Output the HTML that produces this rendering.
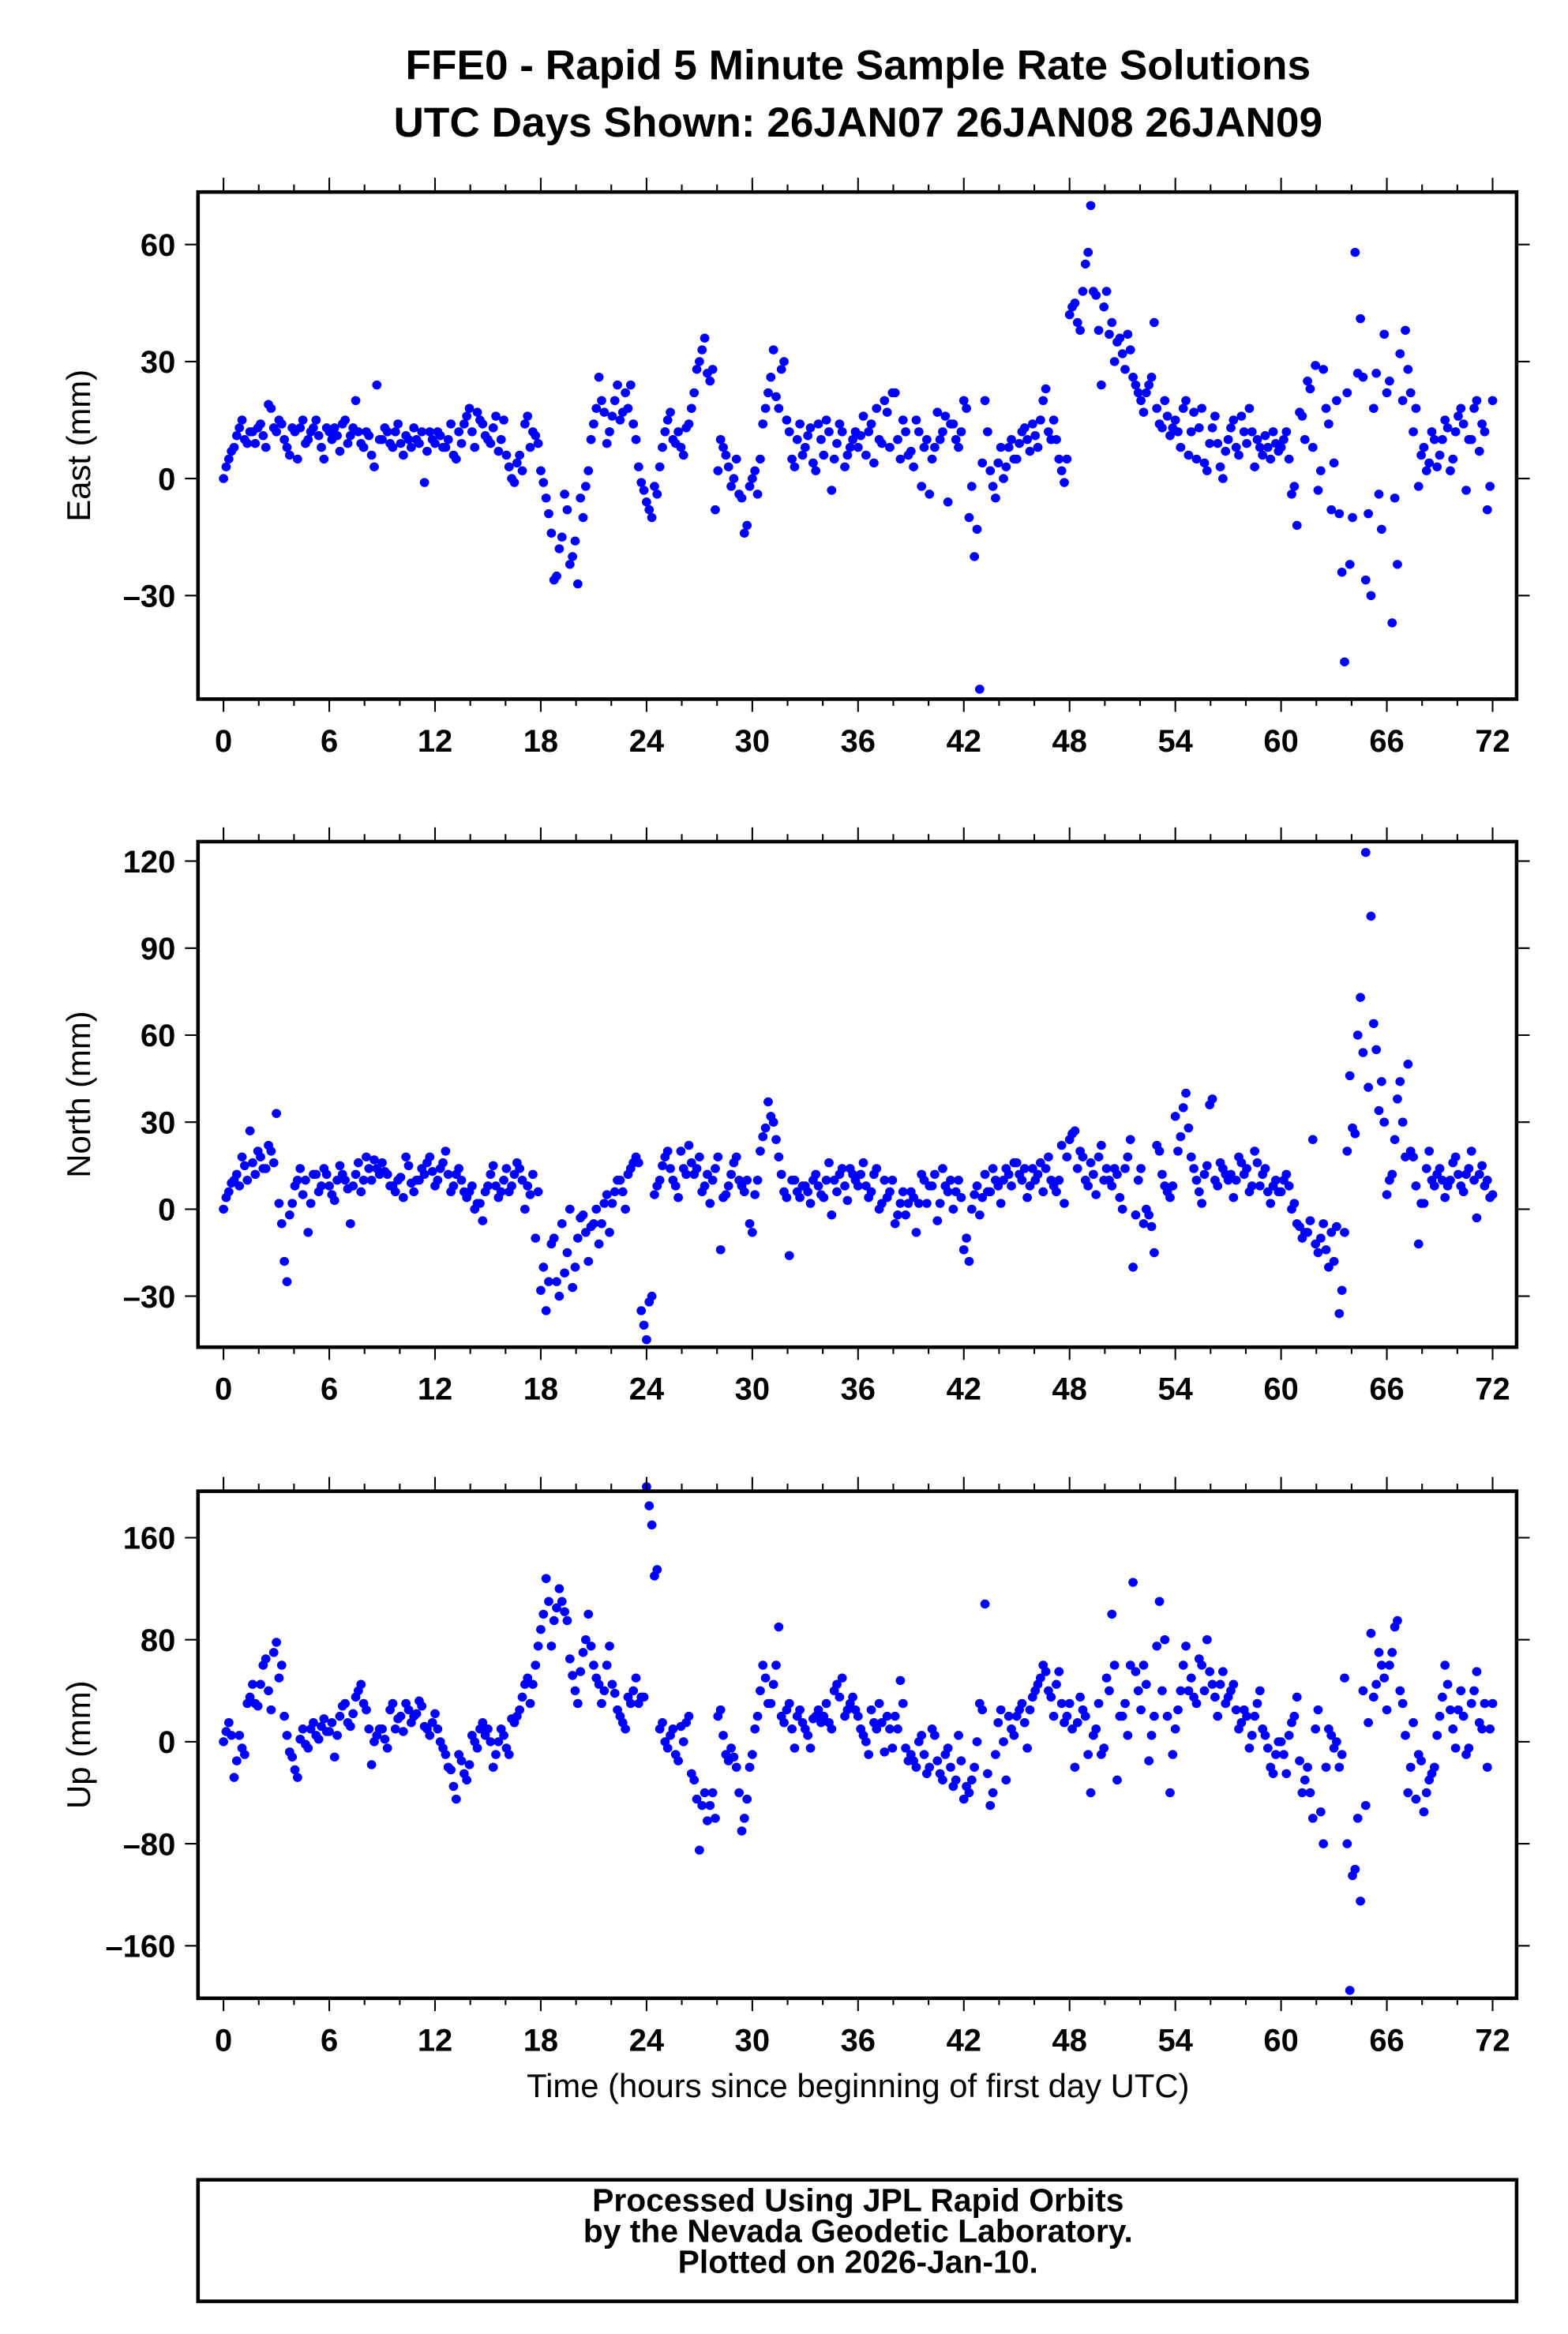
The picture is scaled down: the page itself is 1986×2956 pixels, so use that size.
<!DOCTYPE html>
<html><head><meta charset="utf-8"><title>FFE0 Rapid 5 Minute Solutions</title>
<style>
html,body{margin:0;padding:0;background:#fff;}
svg{display:block;}
text{font-family:"Liberation Sans",Arial,sans-serif;fill:#000;}
</style></head>
<body>
<svg id="chart" xmlns="http://www.w3.org/2000/svg" width="1986" height="2956" viewBox="0 0 1045.26 1555.79" preserveAspectRatio="none">
<rect x="0" y="0" width="1045.26" height="1555.79" fill="#fff"/>
<text x="572" y="53" text-anchor="middle" font-size="28" font-weight="bold">FFE0 - Rapid 5 Minute Sample Rate Solutions</text>
<text x="572" y="91" text-anchor="middle" font-size="28" font-weight="bold">UTC Days Shown:  26JAN07 26JAN08 26JAN09</text>
<g id="panels"></g>
<text x="572" y="1398" text-anchor="middle" font-size="22">Time (hours since beginning of first day UTC)</text>
<g>
<rect x="132" y="1453" width="879" height="81" fill="none" stroke="#000" stroke-width="2.4"/>
<text x="572" y="1474" text-anchor="middle" font-size="21.5" font-weight="bold">Processed Using JPL Rapid Orbits</text>
<text x="572" y="1494.5" text-anchor="middle" font-size="21.5" font-weight="bold">by the Nevada Geodetic Laboratory.</text>
<text x="572" y="1515" text-anchor="middle" font-size="21.5" font-weight="bold">Plotted on 2026-Jan-10.</text>
</g>
</svg>
<script>
// sample step in hours between plotted solutions; series B is offset by half a step
const sampleStep = 0.3;
const offsetB = 0.15;
const xTicks = [0,6,12,18,24,30,36,42,48,54,60,66,72];
const eastTicks = [-30,0,30,60];
const northTicks = [-30,0,30,60,90,120];
const upTicks = [-160,-80,0,80,160];
const eastValues = [
0,5,8,13,10,12,9,14,8,18,
12,14,8,13,5,15,10,13,11,5,
12,13,7,15,11,20,9,12,6,24,
10,12,8,14,6,10,13,9,-1,12,
9,11,8,14,5,9,16,12,17,14,
10,13,7,15,3,-1,6,14,8,11,
2,-5,-14,-25,-15,-8,-20,-27,-10,2,
14,26,17,12,20,15,22,24,10,-1,
-6,-10,-4,8,15,10,12,6,14,22,
30,36,25,-8,10,6,-2,5,-5,-12,
0,-4,14,22,33,18,30,12,3,14,
8,13,2,10,15,-3,9,12,6,10,
8,16,12,4,10,20,8,22,5,12,
7,15,-2,10,5,17,12,-6,14,8,
20,-10,-20,-54,20,2,-5,8,3,10,
5,12,10,14,8,20,12,15,5,-1,
42,45,38,55,70,47,24,48,40,35,
32,37,26,22,17,24,40,14,20,11,
15,8,20,12,5,18,2,13,9,0,
10,15,6,12,18,3,8,11,5,9,
8,12,-4,-12,16,25,8,-3,28,14,
4,-9,-47,-22,58,41,-26,-30,27,-13,
22,-37,-22,20,28,12,-2,8,4,10,
6,15,2,12,18,-3,10,20,14,-8,
20];
const eastValuesB = [
3,7,11,15,9,12,13,11,19,13,
15,10,6,12,13,9,12,15,8,13,
10,11,14,9,13,12,8,11,3,10,
13,9,12,9,11,8,10,12,7,10,
12,8,10,6,12,14,18,8,15,11,
9,16,10,6,0,4,2,16,12,9,
-1,-9,-26,-18,-4,-22,-16,-5,-2,10,
18,20,9,16,24,17,18,14,3,-3,
-8,-2,3,12,17,9,8,13,18,28,
33,27,28,2,8,3,0,-4,-14,-2,
2,5,18,26,21,28,15,5,10,6,
11,4,14,6,12,5,14,3,8,12,
11,6,14,18,9,17,22,10,15,6,
3,12,8,-4,8,10,16,14,10,12,
18,-2,-13,4,12,-2,4,0,8,5,
9,13,7,11,15,23,10,10,2,5,
44,40,48,58,48,38,44,37,30,36,
28,33,24,20,22,26,18,13,16,13,
12,18,6,17,13,4,9,16,3,7,
13,8,16,9,12,10,6,8,12,7,
10,5,-2,17,10,23,29,2,18,-8,
20,-24,22,-10,27,26,-9,18,-4,37,
25,-5,32,38,22,18,6,2,12,3,
10,13,5,16,14,10,18,7,12,-2];
const northValues = [
0,6,10,8,15,27,12,18,14,20,
33,-5,-25,2,10,5,-8,12,6,14,
8,3,15,10,-5,12,6,18,10,14,
16,12,8,10,4,15,6,10,12,18,
8,14,20,6,12,10,4,8,2,-4,
8,15,4,10,6,12,14,0,5,-10,
-28,-35,-12,-25,-5,-15,-27,-10,-2,-18,
-5,-12,2,-8,6,10,0,14,18,-35,
-45,-30,8,15,20,10,4,14,22,12,
18,8,2,14,-14,5,12,18,8,10,
-8,10,25,37,30,18,6,-16,10,4,
8,2,12,5,10,-2,6,14,3,12,
8,16,4,12,0,10,6,-5,2,-2,
6,-8,12,2,8,-4,14,6,0,10,
-14,-18,5,-2,12,6,10,2,14,8,
16,10,4,14,12,6,18,8,10,2,
24,27,20,10,16,5,22,14,8,12,
0,18,-20,10,-5,-2,-15,20,8,4,
32,25,40,18,10,2,15,38,8,14,
10,4,18,12,6,20,8,14,2,10,
6,12,0,-5,-10,-8,24,-15,-5,-20,
-18,-36,-8,46,26,73,123,101,55,44,
5,12,38,30,50,18,-12,2,20,8,
14,4,10,18,8,12,20,-3,15,10,
5];
const northValuesB = [
4,9,12,18,10,16,20,14,22,16,
2,-18,-2,8,14,10,2,12,8,12,
5,10,12,7,8,16,10,14,17,12,
13,8,6,11,18,9,10,14,16,13,
10,16,12,8,14,6,6,0,2,6,
12,8,6,14,8,16,10,8,12,6,
-20,-25,-10,-30,-22,0,-20,-3,-8,-6,
0,-5,5,2,10,6,12,16,16,-40,
-32,5,10,18,14,8,20,12,16,14,
6,12,10,18,4,8,16,10,6,-5,
5,20,28,32,24,12,4,10,6,8,
6,10,8,4,16,10,12,8,14,10,
12,8,6,14,2,4,10,-2,6,2,
4,2,10,8,12,2,8,10,6,4,
-10,0,8,4,6,14,8,10,12,16,
12,14,8,10,16,14,10,6,22,18,
26,14,18,8,12,18,10,10,14,4,
14,24,-2,14,0,-6,22,12,6,8,
20,35,28,14,6,12,36,10,16,12,
12,10,16,14,8,16,12,6,8,6,
10,8,2,-6,-8,-4,-12,-10,-14,-8,
-6,-28,20,28,60,54,42,64,34,30,
10,24,44,18,20,8,2,14,10,12,
10,8,16,12,6,14,10,12,8,4];
const upValues = [
0,15,-28,5,-10,35,30,45,65,25,
78,60,5,-12,-28,10,-5,15,2,18,
8,-12,20,30,12,35,45,25,-18,5,
10,-5,30,18,8,25,20,32,12,5,
22,0,-10,-22,-45,-15,-30,5,-5,15,
10,-20,0,5,-10,15,25,45,30,60,
88,128,75,105,110,95,52,30,70,100,
60,45,40,75,38,20,10,30,50,35,
200,170,135,15,-5,10,-15,0,20,-30,
-85,-40,-50,-60,25,-10,-5,-20,-70,-45,
-10,20,60,30,45,90,15,30,-5,25,
10,-5,20,15,30,10,45,50,25,35,
20,5,-10,15,30,-8,10,20,48,-5,
-10,-20,5,-25,10,-15,-30,-5,-35,5,
-45,-40,-20,30,108,-50,-10,25,-30,10,
20,30,-5,35,45,60,40,20,55,15,
30,-20,35,20,-40,10,-10,50,100,-30,
20,5,125,40,60,-15,20,110,80,-40,
10,40,75,50,30,60,80,45,20,55,
35,45,10,25,-5,20,40,5,-20,-10,
0,-25,15,35,-40,-20,-60,25,-80,10,
-5,-20,50,-195,-100,-125,-50,85,45,60,
25,70,95,30,-40,15,-10,-55,-30,-20,
20,60,25,-5,40,-10,30,55,10,-20,
30];
const upValuesB = [
8,5,-15,-5,30,45,28,60,40,70,
50,20,-8,-22,2,-2,10,5,12,8,
15,5,28,15,22,40,30,10,0,10,
2,25,10,20,30,15,22,28,10,15,
10,-5,-20,-35,-10,-25,-18,0,10,5,
0,-10,10,-5,18,20,35,50,45,75,
100,110,95,120,102,65,40,55,80,75,
50,30,60,45,25,15,35,40,30,35,
185,130,10,0,5,-10,12,15,-25,-45,
-50,-62,-40,20,5,-15,-12,-40,-60,-20,
10,40,50,30,60,20,25,10,20,15,
5,18,25,20,15,40,35,20,30,25,
10,0,25,10,15,20,-5,10,30,-15,
-15,0,-10,-20,5,-25,-10,-20,-30,-15,
-35,-30,0,25,-25,-40,15,0,20,5,
25,15,25,40,50,55,35,45,30,20,
10,15,25,-10,5,30,-5,40,60,20,
30,60,55,25,45,5,75,40,20,-10,
25,60,40,35,65,40,55,35,45,30,
40,25,15,20,5,30,10,-5,-25,0,
-10,5,20,-15,-30,-40,10,-55,-20,5,
0,-10,-80,-105,-60,40,15,35,70,50,
60,90,40,5,-20,-45,-15,-40,-25,5,
35,45,10,25,20,-5,40,15,30,10];

const NS = 'http://www.w3.org/2000/svg';
const frameLeft = 132, frameRight = 1011;
function xScale(t){ return 149 + t * (995 - 149) / 72; }
function mk(tag, attrs, parent){
  const el = document.createElementNS(NS, tag);
  for (const k in attrs) el.setAttribute(k, attrs[k]);
  parent.appendChild(el);
  return el;
}
const panelsRoot = document.getElementById('panels');
const panelDefs = [
  {name:'east', title:'East (mm)', top:128, bottom:466, ticks:eastTicks, values:eastValues, valuesB:eastValuesB, ref:{v0:0,y0:319,v1:30,y1:241}},
  {name:'north', title:'North (mm)', top:561, bottom:898, ticks:northTicks, values:northValues, valuesB:northValuesB, ref:{v0:0,y0:806,v1:30,y1:748}},
  {name:'up', title:'Up (mm)', top:994, bottom:1332, ticks:upTicks, values:upValues, valuesB:upValuesB, ref:{v0:0,y0:1161,v1:80,y1:1093}}
];
panelDefs.forEach(function(p){
  const yScale = function(v){ return p.ref.y0 + (v - p.ref.v0) * (p.ref.y1 - p.ref.y0) / (p.ref.v1 - p.ref.v0); };
  const g = mk('g', {}, panelsRoot);
  
  
  const pts = mk('g', {fill:'#0000ff'}, g);
  
  
  p.values.forEach(function(v, i){
    const c = mk('ellipse', {cx: xScale(i * sampleStep).toFixed(2), cy: yScale(v).toFixed(2), rx: 3.1, ry: 3.0}, pts);
    
    
  });
  p.valuesB.forEach(function(v, i){
    const c = mk('ellipse', {cx: xScale(i * sampleStep + offsetB).toFixed(2), cy: yScale(v).toFixed(2), rx: 3.1, ry: 3.0}, pts);
    
    
  });
  const fr = mk('rect', {x:frameLeft, y:p.top, width:frameRight-frameLeft, height:p.bottom-p.top, fill:'none', stroke:'#000', 'stroke-width':2.4}, g);
  
  
  const xt = mk('g', {stroke:'#000', 'stroke-width':1.1}, g);
  
  
  for (let h = 0; h <= 72; h += 2) {
    const major = (h % 6 === 0);
    const x = xScale(h);
    mk('line', {x1:x, x2:x, y1:p.top, y2:p.top - (major ? 9.5 : 5)}, xt);
    mk('line', {x1:x, x2:x, y1:p.bottom, y2:p.bottom + (major ? 8.5 : 4.5)}, xt);
  }
  xTicks.forEach(function(h){
    const t = mk('text', {x:xScale(h), y:p.bottom + 35, 'text-anchor':'middle', 'font-size':21, 'font-weight':'bold'}, g);
    
    
    t.textContent = String(h);
  });
  const yt = mk('g', {stroke:'#000', 'stroke-width':1.1}, g);
  
  
  p.ticks.forEach(function(v){
    const y = yScale(v);
    mk('line', {x1:frameLeft, x2:frameLeft - 8.7, y1:y, y2:y}, yt);
    mk('line', {x1:frameRight, x2:frameRight + 8.7, y1:y, y2:y}, yt);
    const t = mk('text', {x:117, y:y + 7.5, 'text-anchor':'end', 'font-size':21, 'font-weight':'bold'}, g);
    
    
    t.textContent = (v < 0 ? '\u2013' + Math.abs(v) : String(v));
  });
  const cy = (p.top + p.bottom) / 2;
  const yl = mk('text', {x:0, y:0, transform:'translate(60,' + cy + ') rotate(-90)', 'text-anchor':'middle', 'font-size':22}, g);
  
  
  yl.textContent = p.title;
});
</script>
</body></html>
